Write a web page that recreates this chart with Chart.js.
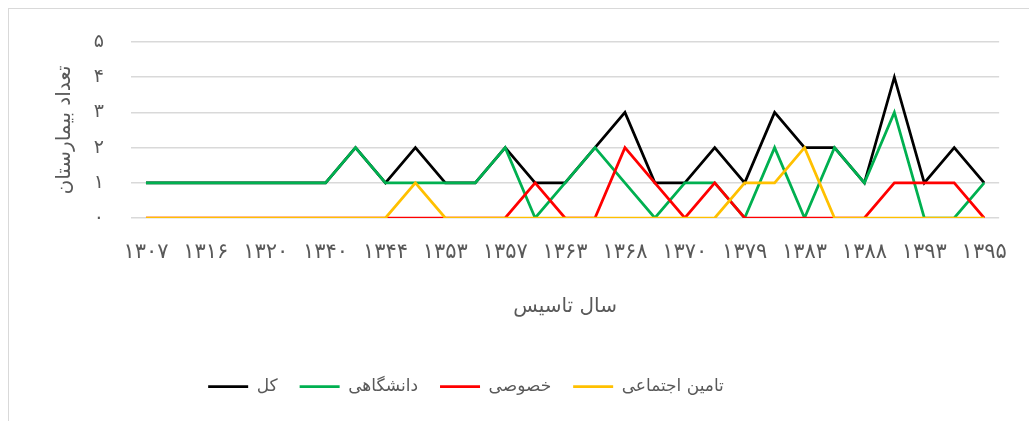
<!DOCTYPE html>
<html lang="fa">
<head>
<meta charset="utf-8">
<script src="https://cdn.jsdelivr.net/npm/chart.js@4/dist/chart.umd.min.js"></script>
<style>
  html, body { margin:0; padding:0; background:#fff; overflow:hidden; }
  #frame { position:absolute; left:8px; top:8px; width:1100px; height:500px; border:1px solid #d9d9d9; }
  #wrap { position:absolute; left:0; top:0; width:1029px; height:421px; }
</style>
</head>
<body>
<div id="frame"></div>
<div id="wrap"><canvas id="chart"></canvas></div>
<script>
// سال تاسیس (only every other one is printed on the axis)
const years = ['۱۳۰۷','۱۳۱۰','۱۳۱۶','۱۳۱۸','۱۳۲۰','۱۳۳۰','۱۳۴۰','۱۳۴۲','۱۳۴۴','۱۳۵۰',
               '۱۳۵۳','۱۳۵۵','۱۳۵۷','۱۳۶۰','۱۳۶۳','۱۳۶۵','۱۳۶۸','۱۳۶۹','۱۳۷۰','۱۳۷۵',
               '۱۳۷۹','۱۳۸۰','۱۳۸۳','۱۳۸۵','۱۳۸۸','۱۳۹۰','۱۳۹۳','۱۳۹۴','۱۳۹۵'];
const yTicks = ['۰','۱','۲','۳','۴','۵'];

const total      = [1,1,1,1,1,1,1,2,1,2, 1,1,2,1,1,2,3,1,1,2, 1,3,2,2,1,4,1,2,1];
const university = [1,1,1,1,1,1,1,2,1,1, 1,1,2,0,1,2,1,0,1,1, 0,2,0,2,1,3,0,0,1];
const privateH   = [0,0,0,0,0,0,0,0,0,0, 0,0,0,1,0,0,2,1,0,1, 0,0,0,0,0,1,1,1,0];
const social     = [0,0,0,0,0,0,0,0,0,1, 0,0,0,0,0,0,0,0,0,0, 1,1,2,0,0,0,0,0,0];

const FONT = "'DejaVu Sans', sans-serif";
const TXT = '#595959';

function ds(label, data, color){
  return { label, data, borderColor: color, backgroundColor: color, borderWidth: 2.75,
           pointRadius: 0, pointHoverRadius: 0, tension: 0, fill: false,
           pointStyle: 'line' };
}

// shift the legend so it sits left of centre like the original
const legendShift = {
  id: 'legendShift',
  afterLayout(chart){
    const lg = chart.legend;
    lg.left = 0; lg.right = 932;
  }
};

new Chart(document.getElementById('chart'), {
  type: 'line',
  data: {
    labels: years,
    datasets: [
      ds('تامین اجتماعی', social, '#ffc000'),
      ds('خصوصی', privateH, '#ff0000'),
      ds('دانشگاهی', university, '#00b050'),
      ds('کل', total, '#000000')
    ]
  },
  options: {
    responsive: true, maintainAspectRatio: false, animation: false,
    layout: { padding: { top: 42, right: 16, left: 0, bottom: 16 } },
    plugins: {
      tooltip: { enabled: false },
      legend: {
        position: 'bottom', reverse: true,
        labels: { usePointStyle: true, pointStyleWidth: 40, color: TXT, padding: 22,
                  font: { family: FONT, size: 17 } }
      }
    },
    scales: {
      x: {
        offset: true,
        grid: { display: false, drawTicks: false },
        border: { display: false },
        ticks: { autoSkip: false, maxRotation: 0, padding: 22, color: TXT,
                 font: { family: FONT, size: 21 },
                 callback: (v, i) => i % 2 === 0 ? years[i] : '' },
        title: { display: true, text: 'سال تاسیس', color: TXT,
                 font: { family: FONT, size: 20 }, padding: { bottom: 37 } },
        afterFit: s => { s.height = 138; }
      },
      y: {
        min: 0, max: 5,
        grid: { color: '#d9d9d9', lineWidth: 1.5, drawTicks: false },
        border: { display: false },
        ticks: { stepSize: 1, padding: 27, color: TXT,
                 font: { family: FONT, size: 19 },
                 callback: v => yTicks[v] },
        title: { display: true, text: 'تعداد بیمارستان', color: TXT,
                 font: { family: FONT, size: 20 }, padding: { top: 53 } },
        afterFit: s => { s.width = 131; }
      }
    }
  },
  plugins: [legendShift]
});
</script>
</body>
</html>
